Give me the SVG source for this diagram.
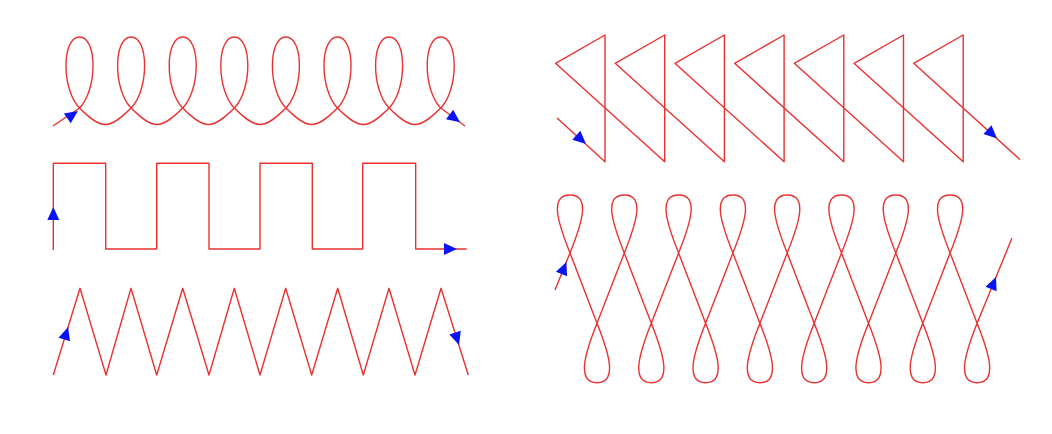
<svg xmlns="http://www.w3.org/2000/svg" xmlns:xlink="http://www.w3.org/1999/xlink" width="1052" height="434" viewBox="0 0 1052 434">
<style>
.c{fill:none;stroke:#e83232;stroke-width:1.4;stroke-linejoin:round}
.a{fill:#0a14f0}
</style>
<defs>
<path id="ah" d="M0,0 L-13,-6 L-13,6 Z"/>
</defs>
<rect width="1052" height="434" fill="#ffffff"/>
<g id="curl">
<path class="c" d="M53,126 L79.5,108 c18,-18 18,-71 0,-71 c-18,0 -18,53 0,71 c22,22 29.6,22 51.6,0 c18,-18 18,-71 0,-71 c-18,0 -18,53 0,71 c22,22 29.6,22 51.6,0 c18,-18 18,-71 0,-71 c-18,0 -18,53 0,71 c22,22 29.6,22 51.6,0 c18,-18 18,-71 0,-71 c-18,0 -18,53 0,71 c22,22 29.6,22 51.6,0 c18,-18 18,-71 0,-71 c-18,0 -18,53 0,71 c22,22 29.6,22 51.6,0 c18,-18 18,-71 0,-71 c-18,0 -18,53 0,71 c22,22 29.6,22 51.6,0 c18,-18 18,-71 0,-71 c-18,0 -18,53 0,71 c22,22 29.6,22 51.6,0 c18,-18 18,-71 0,-71 c-18,0 -18,53 0,71 L465,126"/>
<use xlink:href="#ah" class="a" transform="translate(78,111) rotate(-34.7)"/>
<use xlink:href="#ah" class="a" transform="translate(460,122.3) rotate(36.9)"/>
</g>
<g id="square">
<path class="c" d="M53.3,250 V163.3 H105.7 V249 H156.7 V163.3 H209 V249 H260 V163.3 H312.3 V249 H362.7 V163.3 H415.7 V249 H466.7"/>
<use xlink:href="#ah" class="a" transform="translate(53.3,207) rotate(-90)"/>
<use xlink:href="#ah" class="a" transform="translate(457,249) rotate(0)"/>
</g>
<g id="zigzag">
<path class="c" d="M53.3,375 L80,288.3 L106,375 L131,288.3 L156.7,375 L182.7,288.3 L209,375 L234.3,288.3 L260,375 L285.7,288.3 L311.7,375 L337.7,288.3 L363.3,375 L389,288.3 L415,375 L441,288.3 L468.3,375"/>
<use xlink:href="#ah" class="a" transform="translate(68.1,327) rotate(-72.9)"/>
<use xlink:href="#ah" class="a" transform="translate(459,345) rotate(72.5)"/>
</g>
<g id="triangles">
<path class="c" d="M557,118 L605,161.7 V35 L555.5,63.3 L664.7,161.7 V35 L615.2,63.3 L724.4,161.7 V35 L674.9,63.3 L784.1,161.7 V35 L734.6,63.3 L843.8,161.7 V35 L794.3,63.3 L903.5,161.7 V35 L854,63.3 L963.2,161.7 V35 L913.7,63.3 L1020,159.5"/>
<use xlink:href="#ah" class="a" transform="translate(586,144) rotate(42)"/>
<use xlink:href="#ah" class="a" transform="translate(997,138.4) rotate(42.6)"/>
</g>
<g id="eights">
<path class="c" d="M555,290 L570,253 c12,-30 21,-58 0,-58 c-21,0 -12,28 0,58 l27,70.3 c12,30 21,59.4 0,59.4 c-21,0 -12,-29.4 0,-59.4 l27.3,-70.3 c12,-30 21,-58 0,-58 c-21,0 -12,28 0,58 l27,70.3 c12,30 21,59.4 0,59.4 c-21,0 -12,-29.4 0,-59.4 l27.3,-70.3 c12,-30 21,-58 0,-58 c-21,0 -12,28 0,58 l27,70.3 c12,30 21,59.4 0,59.4 c-21,0 -12,-29.4 0,-59.4 l27.3,-70.3 c12,-30 21,-58 0,-58 c-21,0 -12,28 0,58 l27,70.3 c12,30 21,59.4 0,59.4 c-21,0 -12,-29.4 0,-59.4 l27.3,-70.3 c12,-30 21,-58 0,-58 c-21,0 -12,28 0,58 l27,70.3 c12,30 21,59.4 0,59.4 c-21,0 -12,-29.4 0,-59.4 l27.3,-70.3 c12,-30 21,-58 0,-58 c-21,0 -12,28 0,58 l27,70.3 c12,30 21,59.4 0,59.4 c-21,0 -12,-29.4 0,-59.4 l27.3,-70.3 c12,-30 21,-58 0,-58 c-21,0 -12,28 0,58 l27,70.3 c12,30 21,59.4 0,59.4 c-21,0 -12,-29.4 0,-59.4 l27.3,-70.3 c12,-30 21,-58 0,-58 c-21,0 -12,28 0,58 l27,70.3 c12,30 21,59.4 0,59.4 c-21,0 -12,-29.4 0,-59.4 L1012,238"/>
<use xlink:href="#ah" class="a" transform="translate(566.4,262) rotate(-67.9)"/>
<use xlink:href="#ah" class="a" transform="translate(996,277) rotate(-67.6)"/>
</g>
</svg>
